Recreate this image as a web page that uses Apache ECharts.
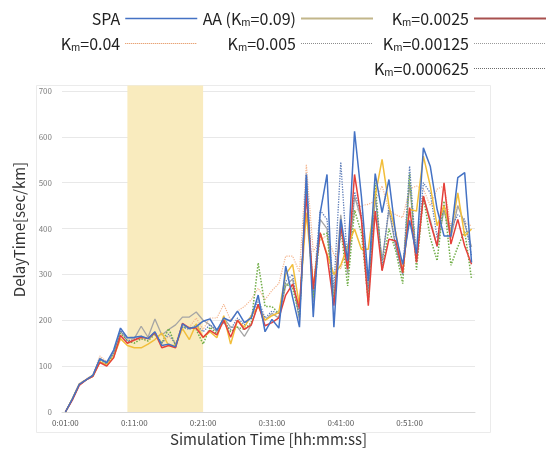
<!DOCTYPE html>
<html>
<head>
<meta charset="utf-8">
<script src="https://cdn.jsdelivr.net/npm/echarts@6/dist/echarts.min.js"></script>
<style>
  html, body { margin: 0; padding: 0; background: #fff; }
  #chart { width: 547px; height: 452px; }
</style>
</head>
<body>
<div id="chart"></div>
<script>
// time stamps, one per minute
var categories = [];
for (var m = 1; m <= 60; m++) {
    var h = Math.floor(m / 60), mm = m % 60;
    categories.push(h + ':' + (mm < 10 ? '0' : '') + mm + ':00');
}

// delay time [sec/km]
var spa = [0, 28, 60, 70, 80, 116, 108, 135, 183, 162, 163, 165, 160, 175, 145, 148, 142, 192, 182, 186,
    198, 203, 178, 205, 198, 220, 195, 205, 255, 175, 202, 183, 318, 250, 185, 518, 207, 433, 518, 185,
    420, 330, 612, 470, 285, 520, 435, 507, 385, 322, 418, 345, 576, 536, 442, 384, 384, 511, 522, 326];
var aa = [0, 28, 60, 70, 78, 110, 102, 120, 160, 145, 140, 140, 148, 158, 172, 145, 145, 182, 158, 192,
    162, 175, 162, 210, 148, 200, 185, 210, 230, 200, 210, 217, 300, 322, 232, 435, 275, 390, 345, 300,
    320, 362, 399, 355, 355, 471, 551, 450, 391, 304, 442, 438, 558, 493, 406, 450, 391, 478, 384, 399];
var k0025 = [0, 26, 58, 70, 78, 108, 100, 118, 167, 150, 157, 163, 160, 173, 140, 145, 140, 193, 183, 183,
    163, 178, 168, 200, 163, 200, 180, 190, 235, 188, 195, 205, 255, 279, 225, 475, 268, 391, 341, 232,
    406, 312, 518, 420, 232, 438, 308, 377, 373, 304, 446, 326, 471, 413, 362, 500, 366, 420, 362, 322];
var k04 = [0, 30, 62, 72, 82, 122, 110, 128, 170, 158, 155, 160, 155, 175, 150, 165, 150, 190, 185, 205,
    180, 205, 205, 235, 200, 220, 230, 245, 270, 245, 265, 280, 340, 340, 305, 540, 350, 375, 385, 344,
    312, 362, 435, 450, 453, 460, 493, 440, 430, 424, 486, 493, 486, 450, 486, 493, 406, 450, 413, 406];
var k005 = [0, 28, 60, 70, 80, 118, 105, 128, 175, 162, 160, 187, 163, 203, 168, 180, 190, 207, 207, 218,
    200, 190, 175, 205, 185, 185, 165, 190, 235, 200, 215, 205, 275, 290, 200, 500, 240, 420, 400, 250,
    430, 300, 470, 420, 260, 470, 330, 440, 360, 300, 500, 330, 470, 420, 360, 440, 380, 450, 410, 360];
var k00125 = [0, 28, 60, 70, 80, 112, 104, 124, 172, 155, 150, 160, 155, 170, 150, 182, 145, 185, 185, 180,
    148, 185, 170, 200, 175, 185, 180, 195, 325, 230, 230, 215, 280, 270, 210, 480, 250, 385, 390, 240,
    400, 275, 440, 390, 240, 500, 310, 400, 350, 280, 520, 310, 470, 380, 330, 460, 320, 360, 395, 290];
var k000625 = [0, 28, 60, 70, 80, 114, 106, 130, 178, 155, 158, 165, 160, 172, 150, 170, 148, 185, 180, 190,
    175, 190, 180, 195, 180, 205, 190, 210, 245, 205, 220, 215, 285, 300, 205, 520, 260, 440, 420, 270,
    545, 320, 480, 430, 270, 478, 320, 450, 360, 300, 536, 330, 500, 478, 380, 450, 400, 430, 420, 340];

var yTicks = [0, 700, 100];
var bandRange = ['0:10:00', '0:21:00'];
var bandTop = 712;

var font = '"Noto Sans CJK JP", "Noto Sans", sans-serif';

var chart = echarts.init(document.getElementById('chart'));

function mkLine(name, data, color, width, type) {
    return {
        name: name,
        type: 'line',
        data: data,
        symbol: 'none',
        color: color,
        lineStyle: { color: color, width: width, type: type },
        emphasis: { disabled: true },
        silent: true
    };
}

// legend entry: line only, no marker
function item(name, color, width, type) {
    return { name: name, itemStyle: { opacity: 0 }, lineStyle: { color: color, width: width, type: type } };
}

function mkLegend(items, right) {
    return {
        orient: 'vertical',
        align: 'right',
        right: right,
        top: 10,
        padding: 0,
        itemWidth: 72,
        itemHeight: 14,
        itemGap: 8,
        selectedMode: false,
        formatter: function (name) { return name.replace('Km', 'K{s|m}'); },
        textStyle: {
            fontFamily: font, fontSize: 16, color: '#222', lineHeight: 17,
            rich: { s: { fontFamily: font, fontSize: 10, color: '#222', verticalAlign: 'bottom', lineHeight: 15 } }
        },
        data: items
    };
}

var option = {
    animation: false,
    backgroundColor: '#fff',
    legend: [
        mkLegend([
            item('SPA', '#4472C4', 1.5, 'solid'),
            item('Km=0.04', '#E0864A', 1, 'dotted')
        ], 349),
        mkLegend([
            item('AA (Km=0.09)', '#C2B68A', 2, 'solid'),
            item('Km=0.005', '#8C8C8C', 1, 'dotted')
        ], 173),
        mkLegend([
            item('Km=0.0025', '#A8504E', 2, 'solid'),
            item('Km=0.00125', '#9A9A9A', 1, 'dotted'),
            item('Km=0.000625', '#6A6A6A', 1, 'dotted')
        ], 0)
    ],
    grid: { left: 62, right: 72, top: 91, bottom: 39 },
    xAxis: {
        type: 'category',
        data: categories,
        boundaryGap: true,
        name: 'Simulation Time [hh:mm:ss]',
        nameLocation: 'middle',
        nameGap: 20,
        nameTextStyle: { fontFamily: font, fontSize: 15, color: '#333' },
        axisLine: { lineStyle: { color: '#D9D9D9' } },
        axisTick: { show: false },
        axisLabel: { interval: 9, fontSize: 8, color: '#595959', margin: 7, fontFamily: font }
    },
    yAxis: {
        type: 'value',
        min: yTicks[0],
        max: yTicks[1],
        interval: yTicks[2],
        name: 'DelayTime[sec/km]',
        nameLocation: 'middle',
        nameGap: 35,
        nameTextStyle: { fontFamily: font, fontSize: 15, color: '#333', padding: [0, 0, 0, 44] },
        axisLine: { show: false },
        axisTick: { show: false },
        axisLabel: { fontSize: 8, color: '#7F7F7F', margin: 10, fontFamily: font },
        splitLine: { lineStyle: { color: '#E8E8E8' } }
    },
    series: [
        mkLine('Km=0.04', k04, '#F4B58E', 1.2, 'dotted'),
        mkLine('Km=0.005', k005, '#A5A5A5', 1.3, 'solid'),
        mkLine('Km=0.00125', k00125, '#70AD47', 1.5, 'dotted'),
        mkLine('Km=0.000625', k000625, '#5E7DB8', 1.3, 'dotted'),
        mkLine('AA (Km=0.09)', aa, '#F2BE3A', 1.5, 'solid'),
        mkLine('Km=0.0025', k0025, '#E5403A', 1.5, 'solid'),
        mkLine('SPA', spa, '#4472C4', 1.5, 'solid')
    ]
};
chart.setOption(option);

// highlighted period, placed through the chart's own scales
var p0 = chart.convertToPixel({ gridIndex: 0 }, [categories.indexOf(bandRange[0]), bandTop]);
var p1 = chart.convertToPixel({ gridIndex: 0 }, [categories.indexOf(bandRange[1]), 0]);
chart.setOption({
    graphic: [
        {
            type: 'rect', z: 1, silent: true,
            shape: { x: p0[0], y: p0[1], width: p1[0] - p0[0], height: p1[1] - p0[1] },
            style: { fill: '#F9EBBE' }
        },
        {
            type: 'rect', z: 0, silent: true,
            shape: { x: 36.5, y: 85.5, width: 454, height: 347 },
            style: { fill: null, stroke: '#EBEBEB', lineWidth: 1 }
        }
    ]
});
</script>
</body>
</html>
